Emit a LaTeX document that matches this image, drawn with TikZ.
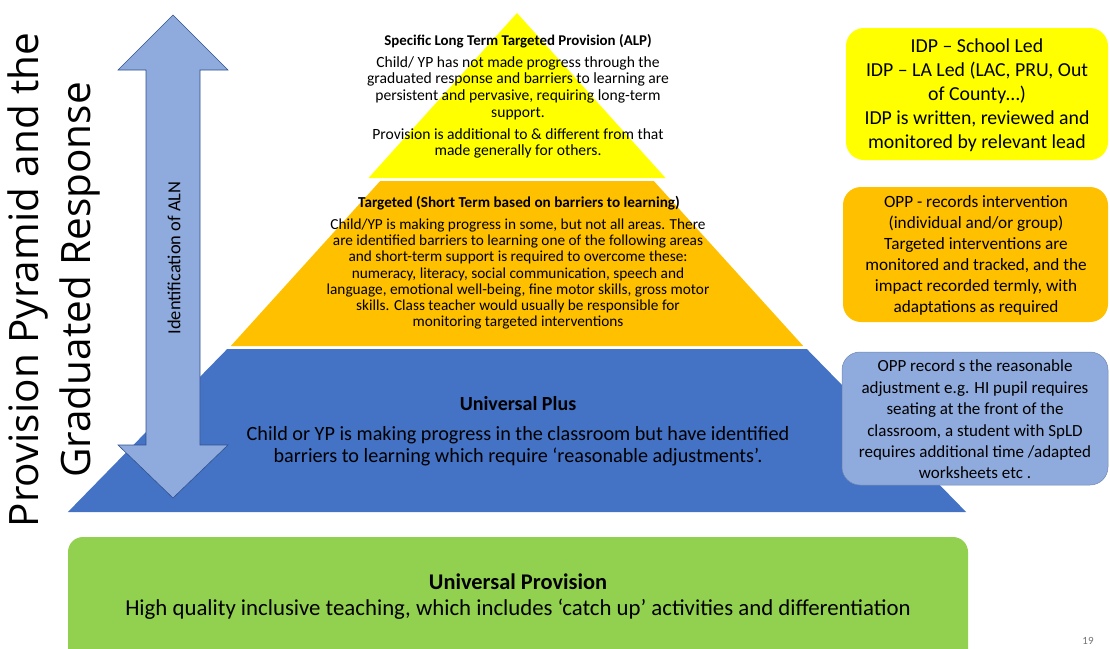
\documentclass[tikz,border=0pt]{standalone}
\usepackage{fontspec}
\setmainfont{Carlito}
\newfontfamily\titlefont{Open Sans}
\definecolor{pyY}{HTML}{FFFF00}
\definecolor{pyO}{HTML}{FFC000}
\definecolor{pyB}{HTML}{4472C4}
\definecolor{pyLB}{HTML}{8FAADC}
\definecolor{pyG}{HTML}{92D050}
\definecolor{pyEdge}{HTML}{2F528F}
\begin{document}
\begin{tikzpicture}[x=1pt,y=-1pt,
  txt/.style={align=center, text=black, inner sep=0pt},
  sidebox/.style={rounded corners=18pt}]
\useasboundingbox (0,0) rectangle (1110,648);
% pyramid tiers (apex 517,13 ; half width 0.9*(y-13))
\fill[pyY] (517,13) -- (665.5,178) -- (368.5,178) -- cycle;
\fill[pyO] (380.2,181) -- (653.8,181) -- (803.2,346) -- (230.8,346) -- cycle;
\fill[pyB] (227.2,349) -- (806.8,349) -- (966.1,512) -- (67.9,512) -- cycle;
% tier texts
\node[txt, font=\bfseries\fontsize{14.9}{16}\selectfont] (alpT) at (518,41) {Specific Long Term Targeted Provision (ALP)};
\node[txt, font=\fontsize{15.6}{16.6}\selectfont] (alpA) at (518,88) {Child/ YP has not made progress through the\\graduated response and barriers to learning are\\persistent and pervasive, requiring long-term\\support.};
\node[txt, font=\fontsize{15.6}{16.6}\selectfont] (alpB) at (518,143.5) {Provision is additional to \& different from that\\made generally for others.};
\node[txt, font=\bfseries\fontsize{15.2}{16}\selectfont] (tgT) at (519,203) {Targeted (Short Term based on barriers to learning)};
\node[txt, font=\fontsize{15.3}{16.3}\selectfont] (tgA) at (518,274) {Child/YP is making progress in some, but not all areas. There\\are identified barriers to learning one of the following areas\\and short-term support is required to overcome these:\\numeracy, literacy, social communication, speech and\\language, emotional well-being, fine motor skills, gross motor\\skills. Class teacher would usually be responsible for\\monitoring targeted interventions};
\node[txt, font=\bfseries\fontsize{20}{22}\selectfont] (upT) at (518,404) {Universal Plus};
\node[txt, font=\fontsize{20.2}{21.5}\selectfont] (upA) at (518,446) {Child or YP is making progress in the classroom but have identified\\barriers to learning which require ‘reasonable adjustments’.};
% double arrow
\path[fill=pyLB, draw=pyEdge, line width=0.6pt]
  (173,15) -- (228,70) -- (200,70) -- (200,445) -- (228,445) -- (173,498)
  -- (118,445) -- (146,445) -- (146,70) -- (118,70) -- cycle;
\node[txt, rotate=90, font=\fontsize{18.4}{20}\selectfont] (aln) at (174,258) {Identification of ALN};
% title
\node[txt, rotate=90, font=\titlefont\fontsize{40.5}{52}\selectfont] (title) at (54,280) {Provision Pyramid and the\\Graduated Response};
% side boxes
\fill[pyY, sidebox] (846,28) rectangle (1108,160);
\node[txt, font=\fontsize{19.8}{24}\selectfont] (idp) at (977,95) {IDP – School Led\\IDP – LA Led (LAC, PRU, Out\\of County…)\\IDP is written, reviewed and\\monitored by relevant lead};
\fill[pyO, sidebox] (843,187) rectangle (1108,322);
\node[txt, font=\fontsize{17.2}{21}\selectfont] (opp1) at (976,255.5) {OPP - records intervention\\(individual and/or group)\\Targeted interventions are\\monitored and tracked, and the\\impact recorded termly, with\\adaptations as required};
\filldraw[fill=pyLB, draw=pyEdge!70, line width=0.5pt, sidebox] (842,352) rectangle (1108,485);
\node[txt, font=\fontsize{17}{21.4}\selectfont] (opp2) at (975,419.5) {OPP record s the reasonable\\adjustment e.g. HI pupil requires\\seating at the front of the\\classroom, a student with SpLD\\requires additional time /adapted\\worksheets etc .};
% universal provision
\fill[pyG, rounded corners=15pt] (68,537) rectangle (968,664);
\node[txt, font=\bfseries\fontsize{22.4}{24}\selectfont] (uvT) at (518,582) {Universal Provision};
\node[txt, font=\fontsize{22.8}{24}\selectfont] (uvA) at (518,609) {High quality inclusive teaching, which includes ‘catch up’ activities and differentiation};
\node[txt, text=black!55, font=\fontsize{11}{12}\selectfont] (pg) at (1088,641) {19};
\end{tikzpicture}
\end{document}
